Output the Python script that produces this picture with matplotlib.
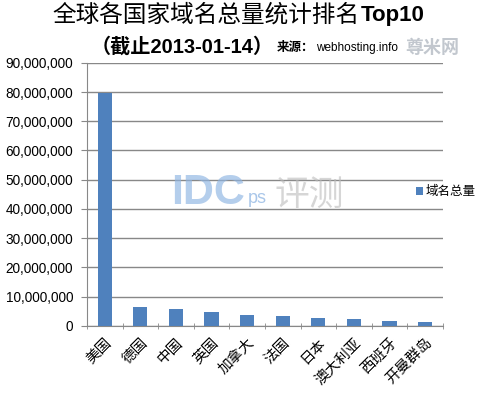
import numpy as np
import matplotlib.pyplot as plt
from matplotlib.ticker import FuncFormatter, FixedLocator

plt.rcParams['font.family'] = ['Noto Sans CJK SC', 'DejaVu Sans']

# 数据：各国域名总量（截止2013-01-14）
countries = ['美国', '德国', '中国', '英国', '加拿大', '法国', '日本', '澳大利亚', '西班牙', '开曼群岛']
totals = [79700000, 6550000, 5800000, 4700000, 3800000, 3450000, 2750000, 2300000, 1700000, 1300000]
series_name = '域名总量'
y_ticks = list(range(0, 90000001, 10000000))

LAT = ['Liberation Sans', 'Noto Sans CJK SC', 'DejaVu Sans']

fig = plt.figure(figsize=(4.83, 3.95), dpi=100)
ax = fig.add_axes([0.180, 0.175, 0.737, 0.666])

x = np.arange(len(countries))
ax.bar(x, totals, width=0.4, color='#4F81BD', label=series_name, zorder=3)

ax.set_xlim(-0.5, len(countries) - 0.5)
ax.set_ylim(0, 90000000)
ax.set_yticks(y_ticks)
ax.yaxis.set_major_formatter(FuncFormatter(lambda v, p: f'{int(v):,}'))
ax.grid(axis='y', color='#888888', lw=1, zorder=0)

ax.set_xticks(x)
ax.set_xticklabels(countries, rotation=45, ha='right', rotation_mode='anchor', fontsize=10.5)
ax.tick_params(axis='x', length=0, pad=7)
ax.xaxis.set_minor_locator(FixedLocator(np.arange(-0.5, len(countries), 1.0)))
ax.tick_params(axis='x', which='minor', length=5, direction='inout', color='#888888')
ax.tick_params(axis='y', length=4, direction='out', color='#888888', labelsize=9.8, pad=6)
for lbl in ax.get_yticklabels():
    lbl.set_family(LAT)

for side in ['top', 'right']:
    ax.spines[side].set_visible(False)
for side in ['left', 'bottom']:
    ax.spines[side].set_color('#888888')

fig.legend(handles=ax.get_legend_handles_labels()[0], labels=[series_name],
           loc='center left', bbox_to_anchor=(0.862, 0.514), frameon=False,
           fontsize=9, handlelength=0.55, handleheight=0.55, handletextpad=0.15,
           borderaxespad=0, borderpad=0)

# 标题
fig.text(0.745, 0.962, '全球各国家域名总量统计排名', fontsize=17, ha='right', va='center')
fig.text(0.747, 0.962, 'Top10', fontsize=16, ha='left', va='center', weight='bold',
         family=LAT)
fig.text(0.567, 0.881, '（截止2013-01-14）', fontsize=14.5, ha='right', va='center',
         weight='bold', family=LAT)
fig.text(0.572, 0.879, '来源：', fontsize=9, ha='left', va='center', weight='bold')
fig.text(0.655, 0.879, 'webhosting.info', fontsize=8.5, ha='left', va='center',
         family=LAT)

# 水印
fig.text(0.355, 0.511, 'IDC', fontsize=31, color='#8DB4E2', weight='bold', alpha=0.65,
         ha='left', va='center', family=LAT)
fig.text(0.513, 0.498, 'ps', fontsize=13, color='#8DB4E2', alpha=0.75,
         ha='left', va='center', family=LAT)
fig.text(0.568, 0.505, '评测', fontsize=25, color='#BBBBBB', alpha=0.6, ha='left', va='center')
fig.text(0.895, 0.88, '尊米网', fontsize=13, color='#A8B0BA', weight='bold', alpha=0.7,
         ha='center', va='center')

plt.savefig('out.png', dpi=100)
